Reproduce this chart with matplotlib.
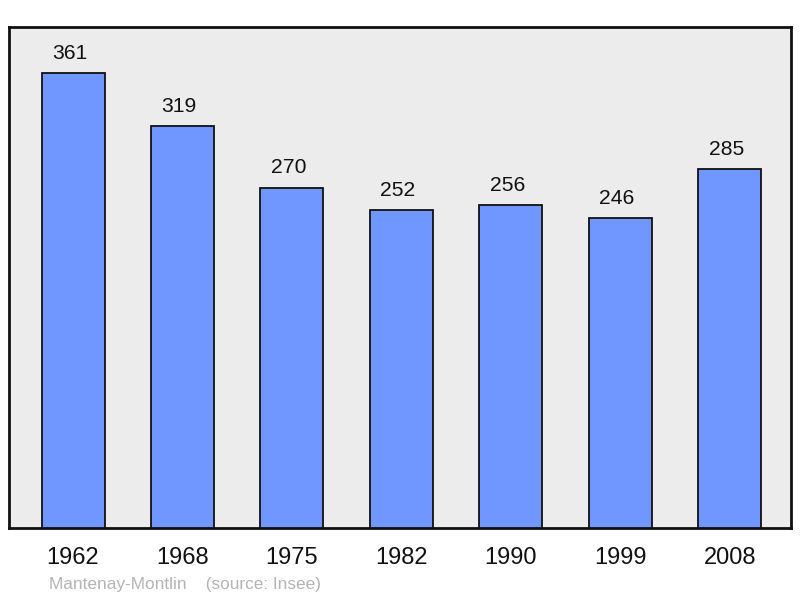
import matplotlib
matplotlib.use("Agg")
import matplotlib.pyplot as plt

years = ["1962", "1968", "1975", "1982", "1990", "1999", "2008"]
population = [361, 319, 270, 252, 256, 246, 285]
commune = "Mantenay-Montlin"
source = "(source: Insee)"

plt.rcParams['font.family'] = ['Liberation Sans', 'DejaVu Sans']

fig = plt.figure(figsize=(8, 5.98), dpi=100)
ax = fig.add_axes([9/800, 70/598, 782/800, 501/598])
ax.set_facecolor('#ececec')

x = list(range(len(years)))
bars = ax.bar(x, population, width=0.576, color='#7096ff', edgecolor='#111111', linewidth=1.3, zorder=3)
for xi, v in zip(x, population):
    ax.annotate(str(v), (xi, v), xytext=(-2.5, 14.3), textcoords='offset points',
                ha='center', va='center', fontsize=15.2, color='#111111')

ax.set_xlim(-0.585, 6.56)
ax.set_ylim(0, 397.6)
ax.set_xticks(x)
ax.set_xticklabels(years, fontsize=17, color='#111111')
ax.tick_params(axis='x', length=0, pad=13.5)
ax.set_yticks([])
for s in ax.spines.values():
    s.set_linewidth(2)
    s.set_color('#111111')

fig.text(49/800, 1 - 585/598, commune + "    " + source, fontsize=12.4, color='#b4b4b4', va='center', ha='left')

fig.savefig("out.png", dpi=100)
